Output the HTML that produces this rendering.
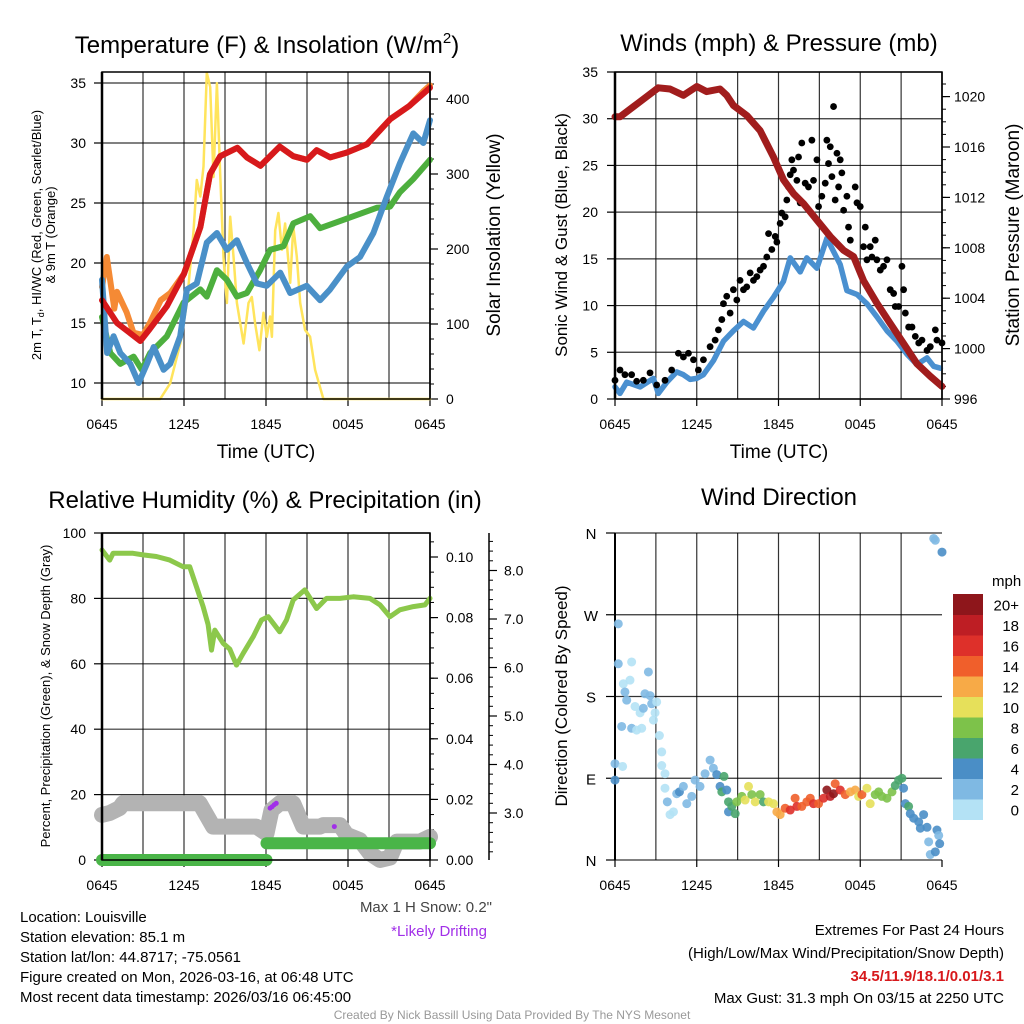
<!DOCTYPE html>
<html><head><meta charset="utf-8"><style>
html,body{margin:0;padding:0;background:#fff}
svg{display:block;font-family:"Liberation Sans",Arial,sans-serif}
</style></head><body>
<svg id="fig" width="1024" height="1024" viewBox="0 0 1024 1024" xmlns="http://www.w3.org/2000/svg">
<rect width="1024" height="1024" fill="#fff"/>
<g id="g1"></g>
<g id="g2"></g>
<g id="g3"></g>
<g id="g4"></g>
<g id="gt">
<text x="267" y="53" font-size="24" text-anchor="middle">Temperature (F) &amp; Insolation (W/m<tspan font-size="15" dy="-10">2</tspan><tspan dy="10">)</tspan></text>
<text x="779" y="51" font-size="24" text-anchor="middle">Winds (mph) &amp; Pressure (mb)</text>
<text x="265" y="508" font-size="24" text-anchor="middle">Relative Humidity (%) &amp; Precipitation (in)</text>
<text x="779" y="505" font-size="24" text-anchor="middle">Wind Direction</text>
<text x="266" y="458" font-size="19" text-anchor="middle">Time (UTC)</text>
<text x="779" y="458" font-size="19" text-anchor="middle">Time (UTC)</text>
<text transform="translate(41,235) rotate(-90)" font-size="13" text-anchor="middle">2m T, T<tspan font-size="9" dy="3">d</tspan><tspan dy="-3">, HI/WC (Red, Green, Scarlet/Blue)</tspan></text>
<text transform="translate(55,235) rotate(-90)" font-size="13" text-anchor="middle">&amp; 9m T (Orange)</text>
<text transform="translate(500,235) rotate(-90)" font-size="19" text-anchor="middle">Solar Insolation (Yellow)</text>
<text transform="translate(567,235) rotate(-90)" font-size="17" text-anchor="middle">Sonic Wind &amp; Gust (Blue, Black)</text>
<text transform="translate(1019,235) rotate(-90)" font-size="19" text-anchor="middle">Station Pressure (Maroon)</text>
<text transform="translate(50,696) rotate(-90)" font-size="13" text-anchor="middle">Percent, Precipitation (Green), &amp; Snow Depth (Gray)</text>
<text transform="translate(567,696) rotate(-90)" font-size="17" text-anchor="middle">Direction (Colored By Speed)</text>
<text x="492" y="912" font-size="15" fill="#444" text-anchor="end">Max 1 H Snow: 0.2"</text>
<text x="487" y="936" font-size="15" fill="#a12fe8" text-anchor="end">*Likely Drifting</text>
<g font-size="15">
<text x="20" y="922">Location: Louisville</text>
<text x="20" y="942">Station elevation: 85.1 m</text>
<text x="20" y="962">Station lat/lon: 44.8717; -75.0561</text>
<text x="20" y="982">Figure created on Mon, 2026-03-16, at 06:48 UTC</text>
<text x="20" y="1002">Most recent data timestamp: 2026/03/16 06:45:00</text>
</g>
<g font-size="15" text-anchor="end">
<text x="1004" y="935">Extremes For Past 24 Hours</text>
<text x="1004" y="958">(High/Low/Max Wind/Precipitation/Snow Depth)</text>
<text x="1004" y="981" font-weight="bold" fill="#d7191c">34.5/11.9/18.1/0.01/3.1</text>
<text x="1004" y="1003">Max Gust: 31.3 mph On 03/15 at 2250 UTC</text>
</g>
<text x="512" y="1019" font-size="12" fill="#999" text-anchor="middle">Created By Nick Bassill Using Data Provided By The NYS Mesonet</text>
</g>
</svg>
<script>
// ---------- data ----------
const xTickLabels = ["0645","1245","1845","0045","0645"];
const redT = [0,1.1,2.8,3.5,4.75,6,7.2,7.9,8.65,9.9,10.6,11.6,13,14,15,15.7,16.7,17.9,19.4,21.1,22.5,23.5,24];
const redV = [16.9,15.0,13.5,14.5,16.4,19.1,23.0,27.4,28.9,29.6,28.8,28.1,29.7,28.9,28.6,29.4,28.8,29.2,29.9,32.0,33.1,34.1,34.6];
const orangeT = [0,0.35,0.9,1.1,1.8,2.3,3.0,3.5,4.3,5.0,6.0,7.2,7.9,8.65,9.9,10.6,11.6,13,14,15,15.7,16.7,17.9,19.4,21.1,22.5,23.5,24];
const orangeV = [18.0,20.5,16.2,17.6,15.9,14.2,14.0,15.0,16.9,17.5,19.1,23.0,27.4,28.9,29.6,28.8,28.1,29.7,28.9,28.6,29.4,28.8,29.2,29.9,32.0,33.1,34.3,34.8];
const greenT = [0,0.61,1.34,2.31,2.92,3.53,4.75,5.97,7.19,7.67,8.41,9.14,9.87,10.6,11.57,12.3,13.28,14.0,15.23,15.96,16.93,18.4,20.1,21.08,21.8,22.78,24];
const greenV = [15.5,12.5,11.6,12.2,11.1,12.5,13.9,16.7,17.8,17.2,19.4,18.6,17.2,17.5,19.4,21.1,21.4,23.3,23.9,22.9,23.3,23.9,24.6,24.7,25.9,27.0,28.6];
const blueT = [0,0.37,0.85,1.34,2.07,2.68,3.29,3.78,4.51,4.99,5.72,6.21,6.94,7.67,8.41,9.14,9.87,10.6,11.33,12.06,13.04,13.77,14.98,15.96,16.69,17.91,18.88,19.86,20.83,21.8,22.78,23.51,24];
const blueV = [18.6,12.5,13.9,12.5,11.6,10.0,11.6,13.0,11.1,11.6,13.9,17.8,18.3,21.7,22.5,21.1,21.9,20.0,18.3,18.1,19.2,17.5,18.1,16.9,17.8,19.7,20.5,22.5,25.5,28.3,30.8,30.0,31.9];
const solarT = [0,4.26,4.99,5.73,6.21,6.7,6.94,7.19,7.43,7.67,7.92,8.16,8.41,8.65,8.89,9.14,9.38,9.62,9.87,10.36,10.72,10.96,11.2,11.52,11.82,12.06,12.3,12.43,12.67,12.91,13.16,13.4,13.77,14.0,14.25,14.5,14.86,15.23,15.59,16.2,24];
const solarV = [0,0,21,74,128,225,292,270,310,435,416,296,421,300,189,128,243,190,128,74,128,136,101,65,115,83,110,83,225,248,199,234,155,230,190,128,92,83,39,0,0];
const presT = [0,0.37,1.35,2.33,3.18,4.04,5.02,6.0,6.73,7.71,8.2,8.69,9.67,10.65,11.63,12.37,13.1,13.84,14.82,15.8,16.78,17.51,18.24,19.22,20.2,21.18,22.16,23.14,24];
const presV = [1018.4,1018.4,1019.2,1020,1020.7,1020.6,1020.1,1020.8,1020.4,1020.6,1020.1,1019.3,1018.5,1017.3,1015.2,1013.4,1012.3,1011.5,1010.2,1008.9,1007.8,1007.3,1005.4,1003.6,1002.0,1000.4,998.8,997.8,997.0];
const windT = [0,0.37,0.86,1.84,2.82,3.18,3.8,4.53,5.02,5.51,6.0,6.49,7.22,7.96,8.69,9.43,10.16,10.9,11.63,12.37,12.86,13.59,14.08,14.82,15.55,16.04,16.53,17.02,17.76,18.49,19.22,19.96,20.69,21.43,22.16,22.9,23.39,23.88];
const windV = [1.3,0.6,1.8,1.3,2.2,0.6,1.8,2.9,2.6,2.1,2.2,2.6,4.1,6.2,7.3,8.3,7.6,9.4,10.9,12.6,15.1,13.6,15.1,14.0,17.2,15.8,14.4,11.6,11.2,10.2,8.8,7.3,6.2,4.8,3.7,4.4,3.5,3.3];
const gustT = [0,.37,.73,1.22,1.59,2.08,2.57,3.06,3.67,4.16,4.65,5.02,5.39,5.76,6.12,6.49,6.98,7.35,7.59,7.84,7.96,8.2,8.45,8.69,8.94,9.18,9.43,9.67,9.92,10.16,10.41,10.65,10.9,11.14,11.27,11.51,11.76,11.88,12.12,12.24,12.49,12.61,12.73,12.86,12.98,13.1,13.35,13.47,13.59,13.71,13.96,14.2,14.45,14.57,14.82,14.94,15.18,15.43,15.55,15.67,15.8,15.92,16.04,16.16,16.29,16.41,16.53,16.65,16.78,17.02,17.14,17.27,17.63,17.76,18.0,18.24,18.37,18.49,18.73,18.86,19.1,19.22,19.47,19.71,19.96,20.2,20.45,20.57,20.82,21.06,21.18,21.31,21.55,21.8,22.04,22.29,22.53,22.9,23.14,23.51,23.63,24];
const gustV = [2.0,3.1,2.6,2.6,1.9,2.0,2.8,1.5,2.0,3.1,4.9,4.5,4.9,4.2,3.1,4.2,5.6,6.3,7.4,8.5,10.2,11.0,9.2,11.7,10.6,12.7,11.7,12.0,13.5,12.7,13.1,13.8,14.2,15.2,17.7,16.0,17.4,16.8,18.8,19.9,19.5,21.3,22.7,24.0,25.6,24.5,23.4,25.9,21.0,27.4,23.1,22.7,27.7,23.4,25.6,20.6,21.7,23.1,27.7,25.2,27.0,23.8,31.3,21.3,26.3,22.7,25.6,24.2,20.2,21.7,18.4,17.0,22.7,21.0,20.6,16.3,18.4,14.9,16.3,15.2,17.0,14.9,13.8,14.2,14.9,11.7,11.3,9.9,9.9,14.2,11.7,9.2,7.7,7.7,6.7,6.0,6.3,5.2,5.6,7.4,6.3,6.0];
const rhT = [0,.56,.81,2.27,3.0,3.98,4.96,5.93,6.42,6.91,7.4,7.76,8.01,8.25,8.86,9.35,9.84,10.33,11.06,11.67,12.16,13.0,13.5,13.99,14.84,15.7,16.43,17.41,18.38,19.6,20.34,21.07,21.8,22.78,23.63,24];
const rhV = [94.8,91.7,93.8,93.8,93.3,92.8,91.7,89.7,89.7,83.6,77.5,72,64.2,70.3,66.3,64.5,59.6,63.2,68.3,73.4,74.4,69.8,73.4,79.5,82.6,76.9,80.0,80.0,80.5,80.0,78,74.4,76.5,77.5,78,80.0];
const snowT = [0,.56,1.29,1.54,7.15,8.13,11.3,12.04,12.4,13.0,13.99,14.72,15.94,16.19,17.41,17.9,18.87,19.6,20.34,21.07,21.56,23.27,24];
const snowV = [2.96,3.0,3.1,3.2,3.2,2.72,2.72,2.58,3.06,3.2,3.2,2.72,2.72,2.75,2.75,2.55,2.44,2.17,2.03,2.08,2.41,2.41,2.51];
const precipT = [0,12.04,12.04,24];
const precipV = [0,0,0.0055,0.0055];
const driftT = [12.3,12.45,12.6,12.75,17.0];
const driftV = [3.1,3.13,3.17,3.2,2.72];
const dirT = [0,0,.24,.24,.49,.56,.61,.73,.86,1.1,1.22,1.22,1.47,1.59,1.84,1.96,2.08,2.2,2.45,2.57,2.69,2.82,2.94,3.06,3.26,3.43,3.43,3.67,3.67,3.84,4.04,4.29,4.53,4.73,5.02,5.27,5.63,5.88,6.24,6.61,6.98,7.22,7.47,7.71,8.0,7.84,8.2,8.33,8.33,8.57,8.82,8.94,9.31,9.55,9.8,10.04,10.29,10.65,10.9,11.27,11.63,11.88,12.12,12.49,12.86,13.22,13.35,13.71,14.08,14.33,14.57,14.94,15.31,15.55,15.8,16.04,16.16,16.53,16.9,17.27,17.63,17.88,18.12,18.49,18.73,19.1,19.35,19.59,19.96,20.33,20.57,20.82,21.06,21.18,21.31,21.55,21.67,21.92,22.29,22.41,22.65,22.9,23.02,23.14,23.51,23.63,23.76,23.83,23.39,23.51,24];
const dirV = [88,106,260,216,147,103,194,185,176,198,218,145,169,143,162,145,167,183,207,181,172,154,162,174,137,119,104,95,79,64,50,53,73,75,81,62,70,88,81,95,110,101,94,81,92,75,77,64,53,59,51,64,70,66,81,72,64,72,64,64,62,53,50,57,55,68,59,59,64,68,62,62,68,77,70,73,84,77,72,75,77,70,72,79,62,72,75,70,68,75,82,88,90,79,62,59,51,46,42,35,50,36,20,6,9,33,27,18,354,352,339];
const dirS = [4,2,2,3,3,1,1,3,3,0,0,3,1,0,1,0,3,3,3,3,3,1,1,1,0,0,0,0,0,3,1,1,3,4,2,2,2,2,2,2,2,2,4,4,6,6,4,6,4,6,6,8,8,10,10,8,10,8,6,10,10,12,12,14,16,14,16,14,14,14,16,14,16,20,18,20,14,16,14,12,12,10,14,10,10,8,8,8,8,8,6,6,6,4,4,6,4,4,4,4,4,4,2,2,4,4,2,4,3,3,4];
const cbLabels = ["0","2","4","6","8","10","12","14","16","18","20+"];
const cbColors = ["#b4e2f5","#7fb9e3","#4a8ec6","#49a56d","#7dc24a","#e6e05a","#f7aa47","#f05f2b","#de302a","#be1e24","#8e161b"];
const tempTicks = [10,15,20,25,30,35];
const solarTicks = [0,100,200,300,400];
const windTicks = [0,5,10,15,20,25,30,35];
const presTicks = [996,1000,1004,1008,1012,1016,1020];
const rhTicks = [0,20,40,60,80,100];
const precipTicks = [0,0.02,0.04,0.06,0.08,0.10];
const snowTicks = [3,4,5,6,7,8];
const dirLabels = ["N","E","S","W","N"];

// ---------- helpers ----------
const NS="http://www.w3.org/2000/svg";
function mk(parent,tag,attrs){const e=document.createElementNS(NS,tag);for(const k in attrs)e.setAttribute(k,attrs[k]);parent.appendChild(e);return e;}
function lineScale(d0,d1,r0,r1){return v=>r0+(v-d0)/(d1-d0)*(r1-r0);}
function poly(g,xs,ys,T,V,col,w,name){
  const pts=T.map((t,i)=>xs(t).toFixed(1)+","+ys(V[i]).toFixed(1)).join(" ");
  const e=mk(g,"polyline",{points:pts,fill:"none",stroke:col,"stroke-width":w,"stroke-linejoin":"round","stroke-linecap":"round"});
  
  
  return e;
}
function frame(g,P,xs){
  for(let h=3;h<24;h+=3){const x=xs(h);
    const l=mk(g,"line",{x1:x,x2:x,y1:P.y0,y2:P.y1,stroke:"#000","stroke-width":1.2,"stroke-opacity":0.8});
    
    }
  for(let i=0;i<5;i++){const x=xs(i*6);
    mk(g,"line",{x1:x,x2:x,y1:P.y1,y2:P.y1+7,stroke:"#000","stroke-width":1.2});
    const t=mk(g,"text",{x:x,y:P.y1+30,"font-size":14,"text-anchor":"middle"});t.textContent=xTickLabels[i];
    
    }
}
function hgrid(g,P,ys,ticks,fmt,labx){
  ticks.forEach(v=>{const y=ys(v);
    const l=mk(g,"line",{x1:P.x0,x2:P.x1,y1:y,y2:y,stroke:"#000","stroke-width":1.2,"stroke-opacity":0.8});
    
    
    mk(g,"line",{x1:P.x0-8,x2:P.x0,y1:y,y2:y,stroke:"#000","stroke-width":1.2});
    const t=mk(g,"text",{x:labx,y:y+5,"font-size":14,"text-anchor":"end"});t.textContent=fmt(v);
    
    });
}
function rightAxis(g,x,yTop,yBot,ys,ticks,minorStep,minorFrom,minorTo,fmt,labx){
  mk(g,"line",{x1:x,x2:x,y1:yTop,y2:yBot,stroke:"#000","stroke-width":1.5});
  for(let v=minorFrom;v<=minorTo+1e-9;v+=minorStep){const y=ys(v); if(y<yTop-0.5||y>yBot+0.5)continue;
    mk(g,"line",{x1:x,x2:x+4,y1:y,y2:y,stroke:"#000","stroke-width":1});}
  ticks.forEach(v=>{const y=ys(v);
    mk(g,"line",{x1:x,x2:x+8,y1:y,y2:y,stroke:"#000","stroke-width":1.2});
    const t=mk(g,"text",{x:labx,y:y+5,"font-size":14});t.textContent=fmt(v);
    
    });
}
function border(g,P){const r=mk(g,"rect",{x:P.x0,y:P.y0,width:P.x1-P.x0,height:P.y1-P.y0,fill:"none",stroke:"#000","stroke-width":1.5});
  
  
  mk(g,"line",{x1:P.x0,x2:P.x0,y1:P.y0,y2:P.y1,stroke:"#000","stroke-width":2.5});}

// ---------- panel 1 ----------
{const g=document.getElementById("g1");const P={x0:102,x1:430,y0:72,y1:399};
 const xs=lineScale(0,24,P.x0,P.x1);const yl=lineScale(10,35,383,83);const yr=lineScale(0,400,399,99);
 frame(g,P,xs);hgrid(g,P,yl,tempTicks,v=>v,86);
 rightAxis(g,P.x1,P.y0,P.y1,yr,solarTicks,20,0,440,v=>v,446);
 poly(g,xs,yr,solarT,solarV,"#ffe45c",2.5,"solar-insolation-line");
 poly(g,xs,yl,orangeT,orangeV,"#f58a35",6,"temp-9m-line");
 poly(g,xs,yl,greenT,greenV,"#4daf3e",6,"dewpoint-line");
 poly(g,xs,yl,blueT,blueV,"#4a90c8",6,"windchill-line");
 poly(g,xs,yl,redT,redV,"#d7191c",6,"temp-2m-line");
 border(g,P);}
// ---------- panel 2 ----------
{const g=document.getElementById("g2");const P={x0:615,x1:942,y0:72,y1:399};
 const xs=lineScale(0,24,P.x0,P.x1);const yl=lineScale(0,35,399,72);const yr=lineScale(996,1020,399,96.6);
 frame(g,P,xs);hgrid(g,P,yl,windTicks,v=>v,598);
 rightAxis(g,P.x1,P.y0,P.y1,yr,presTicks,1,996,1022,v=>v,954);
 poly(g,xs,yl,windT,windV,"#4a90d0",5.5,"sonic-wind-line");
 gustT.forEach((t,i)=>{const c=mk(g,"circle",{cx:xs(t),cy:yl(gustV[i]),r:3.4,fill:"#000"});
   
   });
 poly(g,xs,yr,presT,presV,"#a11d1d",7,"pressure-line");
 border(g,P);}
// ---------- panel 3 ----------
{const g=document.getElementById("g3");const P={x0:102,x1:430,y0:533,y1:860};
 const xs=lineScale(0,24,P.x0,P.x1);const yl=lineScale(0,100,860,533);const yp=lineScale(0,0.1,860,557);const ysn=lineScale(2,8,861.5,570.5);
 frame(g,P,xs);hgrid(g,P,yl,rhTicks,v=>v,86);
 rightAxis(g,P.x1,P.y0,P.y1,yp,precipTicks,0.005,0,0.105,v=>v.toFixed(2),446);
 rightAxis(g,489,533,860,ysn,snowTicks,0.2,2,8.8,v=>v.toFixed(1),504);
 poly(g,xs,ysn,snowT,snowV,"#b3b3b3",16,"snow-depth-line");
 poly(g,xs,yp,precipT.slice(0,2),precipV.slice(0,2),"#4ab548",12,"precip-line-1");
 poly(g,xs,yp,precipT.slice(2),precipV.slice(2),"#4ab548",12,"precip-line-2");
 poly(g,xs,yl,rhT,rhV,"#8cc84b",5,"humidity-line");
 driftT.forEach((t,i)=>{const c=mk(g,"circle",{cx:xs(t),cy:ysn(driftV[i]),r:2.5,fill:"#a12fe8"});
   
   });
 border(g,P);}
// ---------- panel 4 ----------
{const g=document.getElementById("g4");const P={x0:615,x1:942,y0:533,y1:860};
 const xs=lineScale(0,24,P.x0,P.x1);const yd=lineScale(0,360,860,533);
 frame(g,P,xs);
 dirLabels.forEach((lab,i)=>{const y=yd(i*90);
   const l=mk(g,"line",{x1:P.x0,x2:P.x1,y1:y,y2:y,stroke:"#000","stroke-width":1.2,"stroke-opacity":0.8});
   
   
   mk(g,"line",{x1:P.x0-9,x2:P.x0,y1:y,y2:y,stroke:"#000","stroke-width":1.2});
   const t=mk(g,"text",{x:591,y:y+6,"font-size":15,"text-anchor":"middle"});t.textContent=lab;
   
   });
 mk(g,"line",{x1:P.x0,x2:P.x0,y1:P.y0,y2:P.y1,stroke:"#000","stroke-width":2});
 dirT.forEach((t,i)=>{const b=Math.min(10,Math.floor(dirS[i]/2));
   const c=mk(g,"circle",{cx:xs(t),cy:yd(dirV[i]),r:4.5,fill:cbColors[b],"fill-opacity":0.9});
   
   });
 const cb=mk(g,"g",{});
 
 
 const cbTop=594,cbH=20.5;
 cbColors.forEach((c,i)=>{const y=cbTop+(10-i)*cbH;
   mk(cb,"rect",{x:953,y:y,width:30,height:cbH+0.5,fill:c});
   const t=mk(cb,"text",{x:1019,y:y+cbH/2+6,"font-size":15,"text-anchor":"end"});t.textContent=cbLabels[i];
   
   });
 const u=mk(cb,"text",{x:992,y:586,"font-size":15});u.textContent="mph";
 
 
}
</script>
</body></html>
